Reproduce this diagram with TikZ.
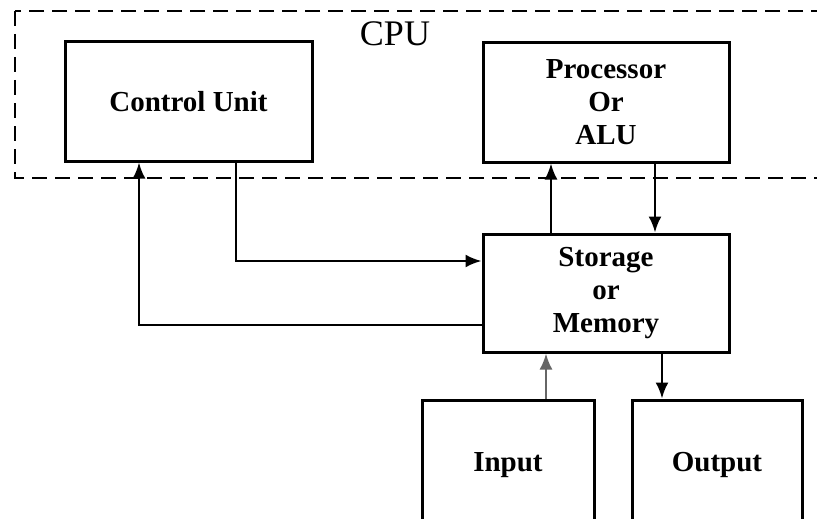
\documentclass[tikz,border=0pt]{standalone}
\usepackage{fontspec}
\setmainfont{Liberation Serif}
\usetikzlibrary{calc,arrows.meta}

\tikzset{
  unitbox/.style={draw=black,line width=3pt,align=center,inner sep=0pt,
    font=\fontsize{29}{33}\selectfont\bfseries},
  flow/.style={line width=2.3pt,-{Latex[length=16pt,width=13pt]}}
}

\begin{document}
\begin{tikzpicture}[x=1pt,y=-1pt]
\useasboundingbox (0,0) rectangle (817,519);
\clip (0,0) rectangle (817,519);
\fill[color=white] (0,0) rectangle (817,519);
% CPU boundary
\draw[line width=2.8pt,dash pattern=on 15pt off 8pt] (15,11) rectangle (840,178);
\node[font=\fontsize{36}{36}\selectfont] (cpu) at (395,34) {CPU};
% units
\node[unitbox,minimum width=247pt,minimum height=119pt] (cu) at (188.5,101.5) {Control Unit};
\node[unitbox,minimum width=246pt,minimum height=119pt] (alu) at (606,102.5) {Processor\\Or\\ALU};
\node[unitbox,minimum width=246pt,minimum height=118pt] (mem) at (606,293) {Storage\\or\\Memory};
\node[unitbox,minimum width=172pt,minimum height=130pt] (in) at (508,465) {Input};
\node[unitbox,minimum width=170pt,minimum height=130pt] (out) at (717,465) {Output};
% control unit <-> memory
\draw[flow] ($(cu.south)+(47.5,0)$) |- ($(mem.west)+(0,-32)$);
\draw[flow] ($(mem.west)+(0,32)$) -| ($(cu.south)+(-49.5,0)$);
% processor <-> memory
\draw[flow] ($(mem.north)+(-55,0)$) -- ($(alu.south)+(-55,0)$);
\draw[flow] ($(alu.south)+(49,0)$) -- ($(mem.north)+(49,0)$);
% input, output
\draw[flow,draw=black!60] ($(in.north)+(38,0)$) -- ($(mem.south)+(-60,0)$);
\draw[flow] ($(mem.south)+(56,0)$) -- ($(out.north)+(-55,0)$);
\end{tikzpicture}
\end{document}
